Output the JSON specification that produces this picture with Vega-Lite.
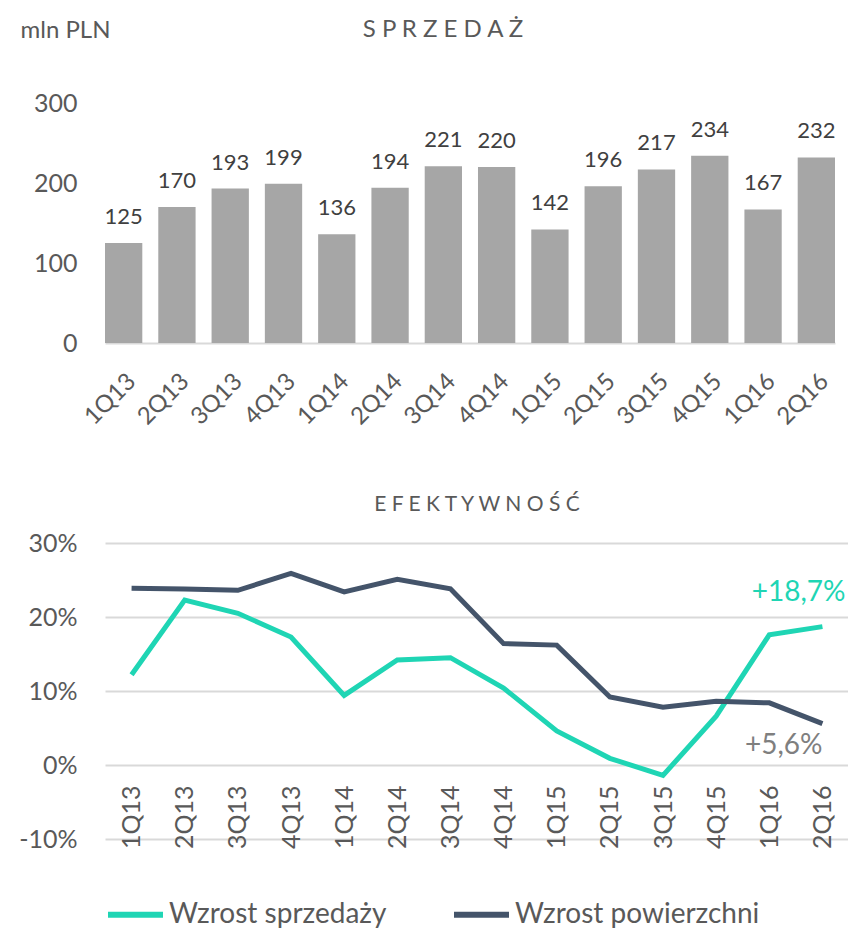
{
  "$schema": "https://vega.github.io/schema/vega-lite/v6.json",
  "padding": {"left": 18, "top": 18, "right": 0, "bottom": 0},
  "background": "white",
  "config": {
    "font": "Lato",
    "view": {"stroke": null},
    "title": {"fontSize": 22, "fontWeight": "normal", "color": "#595959", "font": "Lato"},
    "axis": {"labelFont": "Lato", "titleFont": "Lato", "labelColor": "#595959", "titleColor": "#595959"},
    "legend": {"labelFont": "Lato"}
  },
  "datasets": {
    "sales": [
      {"q": "1Q13", "value": 125}, {"q": "2Q13", "value": 170}, {"q": "3Q13", "value": 193}, {"q": "4Q13", "value": 199},
      {"q": "1Q14", "value": 136}, {"q": "2Q14", "value": 194}, {"q": "3Q14", "value": 221}, {"q": "4Q14", "value": 220},
      {"q": "1Q15", "value": 142}, {"q": "2Q15", "value": 196}, {"q": "3Q15", "value": 217}, {"q": "4Q15", "value": 234},
      {"q": "1Q16", "value": 167}, {"q": "2Q16", "value": 232}
    ],
    "growth": [
      {"q": "1Q13", "series": "Wzrost sprzedaży", "value": 12.2},
      {"q": "2Q13", "series": "Wzrost sprzedaży", "value": 22.3},
      {"q": "3Q13", "series": "Wzrost sprzedaży", "value": 20.5},
      {"q": "4Q13", "series": "Wzrost sprzedaży", "value": 17.3},
      {"q": "1Q14", "series": "Wzrost sprzedaży", "value": 9.4},
      {"q": "2Q14", "series": "Wzrost sprzedaży", "value": 14.2},
      {"q": "3Q14", "series": "Wzrost sprzedaży", "value": 14.5},
      {"q": "4Q14", "series": "Wzrost sprzedaży", "value": 10.4},
      {"q": "1Q15", "series": "Wzrost sprzedaży", "value": 4.6},
      {"q": "2Q15", "series": "Wzrost sprzedaży", "value": 0.9},
      {"q": "3Q15", "series": "Wzrost sprzedaży", "value": -1.4},
      {"q": "4Q15", "series": "Wzrost sprzedaży", "value": 6.6},
      {"q": "1Q16", "series": "Wzrost sprzedaży", "value": 17.6},
      {"q": "2Q16", "series": "Wzrost sprzedaży", "value": 18.7, "label": "+18,7%"},
      {"q": "1Q13", "series": "Wzrost powierzchni", "value": 23.9},
      {"q": "2Q13", "series": "Wzrost powierzchni", "value": 23.8},
      {"q": "3Q13", "series": "Wzrost powierzchni", "value": 23.6},
      {"q": "4Q13", "series": "Wzrost powierzchni", "value": 25.9},
      {"q": "1Q14", "series": "Wzrost powierzchni", "value": 23.4},
      {"q": "2Q14", "series": "Wzrost powierzchni", "value": 25.1},
      {"q": "3Q14", "series": "Wzrost powierzchni", "value": 23.8},
      {"q": "4Q14", "series": "Wzrost powierzchni", "value": 16.4},
      {"q": "1Q15", "series": "Wzrost powierzchni", "value": 16.2},
      {"q": "2Q15", "series": "Wzrost powierzchni", "value": 9.2},
      {"q": "3Q15", "series": "Wzrost powierzchni", "value": 7.8},
      {"q": "4Q15", "series": "Wzrost powierzchni", "value": 8.6},
      {"q": "1Q16", "series": "Wzrost powierzchni", "value": 8.4},
      {"q": "2Q16", "series": "Wzrost powierzchni", "value": 5.6, "label": "+5,6%"}
    ]
  },
  "columns": 1,
  "align": "none",
  "spacing": 64,
  "concat": [
    {
      "width": 730,
      "height": 240,
      "title": {"text": "S P R Z E D A Ż", "offset": -24, "anchor": "middle", "fontSize": 24, "dx": -27},
      "data": {"name": "sales"},
      "encoding": {
        "x": {
          "field": "q", "type": "ordinal", "sort": null,
          "scale": {"paddingInner": 0.3, "paddingOuter": 0},
          "axis": {"title": null, "labelAngle": -45, "labelFontSize": 24, "ticks": false, "domainColor": "#d9d9d9", "domainWidth": 2, "labelPadding": 26}
        },
        "y": {
          "field": "value", "type": "quantitative",
          "scale": {"domain": [0, 300]},
          "axis": {"values": [0, 100, 200, 300], "grid": false, "domain": false, "ticks": false, "labelFontSize": 25, "labelPadding": 28,
            "title": "mln PLN", "titleAngle": 0, "titleAlign": "left", "titleBaseline": "middle", "titleFontSize": 24, "titleFontWeight": "normal", "titleX": -85, "titleY": -73}
        }
      },
      "layer": [
        {"mark": {"type": "bar", "color": "#a6a6a6"}},
        {"mark": {"type": "text", "dy": -26, "fontSize": 22, "color": "#404040"}, "encoding": {"text": {"field": "value", "type": "quantitative"}}}
      ]
    },
    {
      "width": 744,
      "height": 296,
      "title": {"text": "E F E K T Y W N O Ś Ć", "offset": 16, "anchor": "middle", "fontSize": 21},
      "data": {"name": "growth"},
      "encoding": {
        "x": {
          "field": "q", "type": "ordinal", "sort": null,
          "axis": {"title": null, "labelAngle": -90, "labelAlign": "right", "labelBaseline": "middle", "labelFontSize": 25, "ticks": false, "domain": false, "offset": -54, "labelPadding": 0}
        },
        "y": {
          "field": "value", "type": "quantitative",
          "scale": {"domain": [-10, 30]},
          "axis": {"values": [-10, 0, 10, 20, 30], "labelExpr": "datum.value + '%'", "title": null, "domain": false, "ticks": false, "gridColor": "#d9d9d9", "gridWidth": 2, "labelFontSize": 25, "labelPadding": 28}
        }
      },
      "layer": [
        {
          "mark": {"type": "line", "strokeWidth": 5},
          "encoding": {
            "color": {
              "field": "series", "type": "nominal",
              "scale": {"domain": ["Wzrost sprzedaży", "Wzrost powierzchni"], "range": ["#1fd5b4", "#44546a"]},
              "legend": {"title": null, "orient": "bottom", "direction": "horizontal", "symbolType": "stroke", "symbolStrokeWidth": 6, "symbolSize": 3025, "labelFontSize": 28, "labelColor": "#595959", "labelLimit": 400, "columnPadding": 55, "offset": 32, "labelOffset": 3}
            }
          }
        },
        {
          "transform": [{"filter": "datum.series == 'Wzrost sprzedaży' && datum.label"}],
          "mark": {"type": "text", "fontSize": 28, "color": "#1fd5b4", "align": "right", "dx": 23, "dy": -34},
          "encoding": {"text": {"field": "label"}}
        },
        {
          "transform": [{"filter": "datum.series == 'Wzrost powierzchni' && datum.label"}],
          "mark": {"type": "text", "fontSize": 28, "color": "#7f7f7f", "align": "right", "dx": 0, "dy": 22},
          "encoding": {"text": {"field": "label"}}
        }
      ]
    }
  ]
}
